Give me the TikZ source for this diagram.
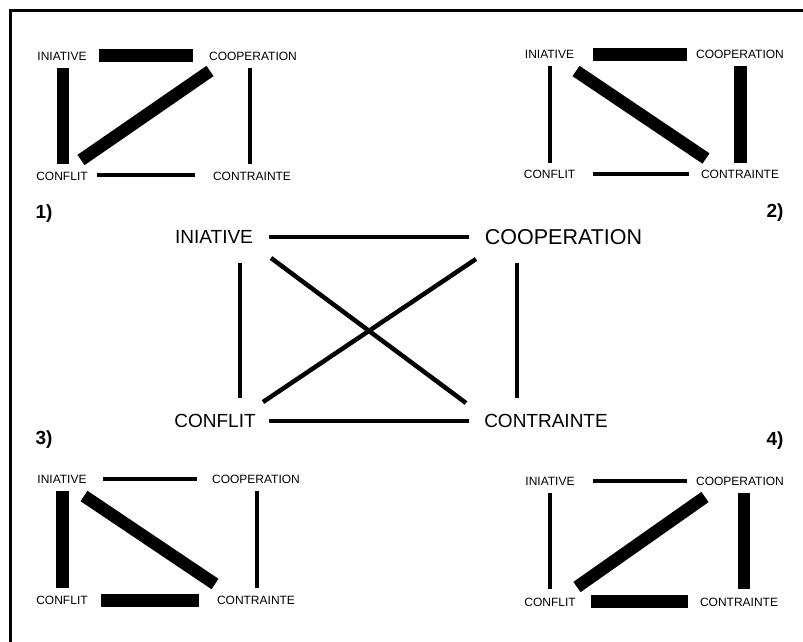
\documentclass[tikz,border=0pt]{standalone}
\usepackage{fontspec}
\setmainfont{Liberation Sans}
\begin{document}
\begin{tikzpicture}[x=1pt,y=-1pt,
  lbl/.style={inner sep=0pt,text height=8.6pt,text depth=0pt,font=\fontsize{12}{12}\selectfont},
  biglbl/.style={inner sep=0pt,text height=13.6pt,text depth=0pt,font=\fontsize{19}{19}\selectfont},
  numlbl/.style={inner sep=0pt,font=\fontsize{19}{19}\selectfont\bfseries},
  thin/.style={line width=4.5pt,line cap=butt},
  thickbar/.style={line width=12.5pt,line cap=butt},
  frame/.style={line width=2.5pt}]
\useasboundingbox (0,0) rectangle (803,642);
% frame
\coordinate (fa) at (803,10.5);
\coordinate (fb) at (10.5,10.5);
\coordinate (fc) at (10.5,642);
\draw[frame] (fa) -- (fb) -- (fc);

% ---------- diagram 1 ----------
\node[lbl] (i1) at (62,56) {INIATIVE};
\node[lbl] (o1) at (253,56) {COOPERATION};
\node[lbl] (f1) at (62,176) {CONFLIT};
\node[lbl] (t1) at (252,176) {CONTRAINTE};
\coordinate (a1) at (99,55.5); \coordinate (b1) at (193,55.5);
\coordinate (c1) at (63,68); \coordinate (d1) at (63,164);
\coordinate (e1) at (81,160); \coordinate (g1) at (210,71);
\coordinate (h1) at (250,68); \coordinate (j1) at (250,164);
\coordinate (k1) at (97,175); \coordinate (l1) at (195,175);
\draw[thickbar] (a1) -- (b1);
\draw[thickbar] (c1) -- (d1);
\draw[thickbar] (e1) -- (g1);
\draw[thin] (h1) -- (j1);
\draw[thin] (k1) -- (l1);
\node[numlbl] (n1) at (44,214) {1)};

% ---------- diagram 2 ----------
\node[lbl] (i2) at (549.5,54) {INIATIVE};
\node[lbl] (o2) at (740,54) {COOPERATION};
\node[lbl] (f2) at (549.5,174) {CONFLIT};
\node[lbl] (t2) at (740,174) {CONTRAINTE};
\coordinate (a2) at (593,54.5); \coordinate (b2) at (687,54.5);
\coordinate (c2) at (550,66); \coordinate (d2) at (550,163);
\coordinate (e2) at (576,71); \coordinate (g2) at (706,158.5);
\coordinate (h2) at (740.5,66); \coordinate (j2) at (740.5,163);
\coordinate (k2) at (593,174); \coordinate (l2) at (689,174);
\draw[thickbar] (a2) -- (b2);
\draw[thin] (c2) -- (d2);
\draw[thickbar] (e2) -- (g2);
\draw[thickbar] (h2) -- (j2);
\draw[thin] (k2) -- (l2);
\node[numlbl] (n2) at (775,213) {2)};

% ---------- diagram 3 ----------
\node[lbl] (i3) at (62,479) {INIATIVE};
\node[lbl] (o3) at (256,479) {COOPERATION};
\node[lbl] (f3) at (62,600) {CONFLIT};
\node[lbl] (t3) at (256,600) {CONTRAINTE};
\coordinate (a3) at (103,479); \coordinate (b3) at (197,479);
\coordinate (c3) at (62.5,491); \coordinate (d3) at (62.5,588);
\coordinate (e3) at (84,496); \coordinate (g3) at (215,584);
\coordinate (h3) at (257,491); \coordinate (j3) at (257,588);
\coordinate (k3) at (101,600.5); \coordinate (l3) at (199,600.5);
\draw[thin] (a3) -- (b3);
\draw[thickbar] (c3) -- (d3);
\draw[thickbar] (e3) -- (g3);
\draw[thin] (h3) -- (j3);
\draw[thickbar] (k3) -- (l3);
\node[numlbl] (n3) at (44,440) {3)};

% ---------- diagram 4 ----------
\node[lbl] (i4) at (550,481) {INIATIVE};
\node[lbl] (o4) at (740,481) {COOPERATION};
\node[lbl] (f4) at (550,602) {CONFLIT};
\node[lbl] (t4) at (739,602) {CONTRAINTE};
\coordinate (a4) at (593,481); \coordinate (b4) at (687,481);
\coordinate (c4) at (550,493); \coordinate (d4) at (550,589);
\coordinate (e4) at (577,587); \coordinate (g4) at (705,497);
\coordinate (h4) at (744,493); \coordinate (j4) at (744,589);
\coordinate (k4) at (591,601.5); \coordinate (l4) at (688,601.5);
\draw[thin] (a4) -- (b4);
\draw[thin] (c4) -- (d4);
\draw[thickbar] (e4) -- (g4);
\draw[thickbar] (h4) -- (j4);
\draw[thickbar] (k4) -- (l4);
\node[numlbl] (n4) at (775,441) {4)};

% ---------- central diagram ----------
\node[biglbl] (I) at (214,237) {INIATIVE};
\node[biglbl,text height=15.4pt,font=\fontsize{21.5}{21.5}\selectfont] (O) at (563.5,237) {COOPERATION};
\node[biglbl] (F) at (215,421) {CONFLIT};
\node[biglbl] (T) at (546,421) {CONTRAINTE};
\coordinate (A) at (269,237); \coordinate (B) at (469,237);
\coordinate (C) at (240,263); \coordinate (D) at (240,398);
\coordinate (E) at (271,258); \coordinate (G) at (466,403);
\coordinate (H) at (263,402); \coordinate (J) at (476,259);
\coordinate (K) at (517,263); \coordinate (L) at (517,398);
\coordinate (M) at (269,421); \coordinate (N) at (469,421);
\draw[thin] (A) -- (B);
\draw[thin] (C) -- (D);
\draw[thin] (E) -- (G);
\draw[thin] (H) -- (J);
\draw[thin] (K) -- (L);
\draw[thin] (M) -- (N);
\end{tikzpicture}
\end{document}
